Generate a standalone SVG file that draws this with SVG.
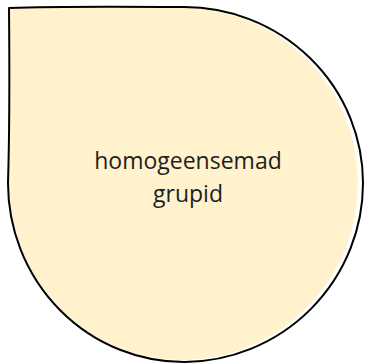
<svg xmlns="http://www.w3.org/2000/svg" width="365" height="364" viewBox="0 0 365 364">
<style>
.fill{fill:#FFF2CC;stroke:none}
.edge{fill:none;stroke:#000;stroke-width:2;stroke-linejoin:round}
.lbl{font-family:"Open Sans","Liberation Sans",sans-serif;font-size:23px;fill:#1e1e1e;text-anchor:middle}
</style>
<g id="connectors"></g>
<g id="node-drop">
<path class="fill" d="M10,8 L183,8 A175,175 0 0 1 358,183 A176,177 0 0 1 182,360 A173,177 0 0 1 9,183 Z"/>
<path class="edge" d="M9,8 Q60,6 183,7 A179,176 0 0 1 363,183 A180,179 0 0 1 185,362 A176,179 0 0 1 8,183 Q10,120 9,8 Z"/>
<text class="lbl" x="188" y="169">homogeensemad</text>
<text class="lbl" x="188" y="202">grupid</text>
</g>
</svg>
